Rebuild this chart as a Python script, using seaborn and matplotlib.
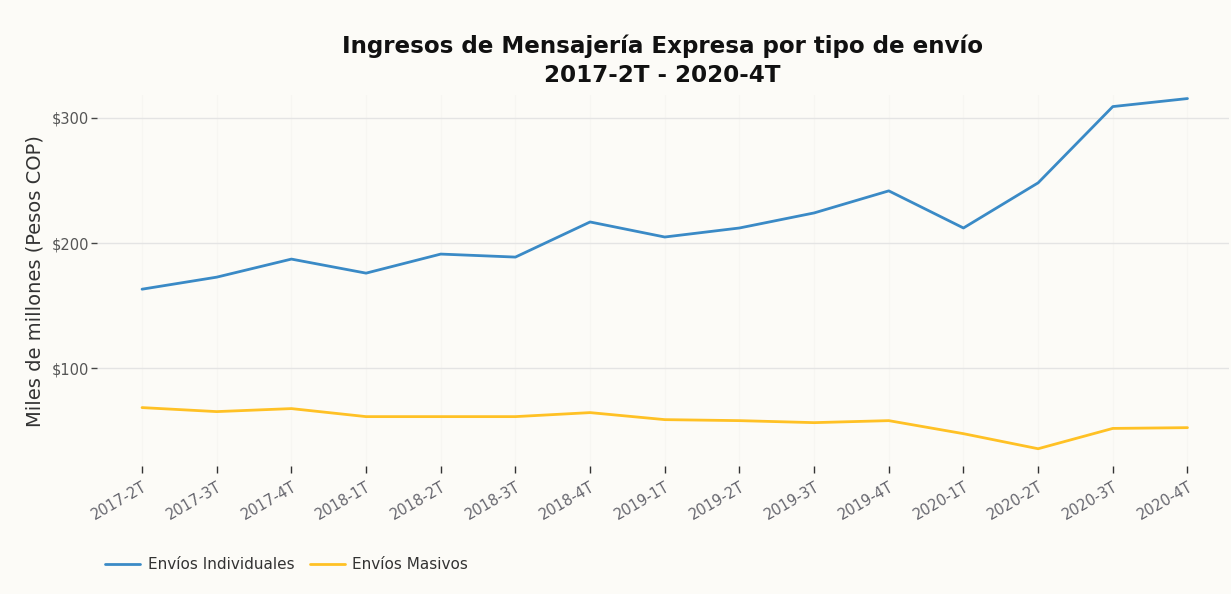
import numpy as np
import pandas as pd
import matplotlib
matplotlib.use("Agg")
import matplotlib.pyplot as plt
import seaborn as sns

# Datos (miles de millones de pesos COP)
periodos = ['2017-2T', '2017-3T', '2017-4T', '2018-1T', '2018-2T', '2018-3T',
            '2018-4T', '2019-1T', '2019-2T', '2019-3T', '2019-4T', '2020-1T',
            '2020-2T', '2020-3T', '2020-4T']
individuales = [163.2, 172.8, 187.2, 176.0, 191.2, 188.8, 216.8, 204.8,
                212.0, 224.0, 241.6, 212.0, 248.0, 308.8, 315.2]
masivos = [68.8, 65.6, 68.0, 61.6, 61.6, 61.6, 64.8, 59.2,
           58.4, 56.8, 58.4, 48.0, 36.0, 52.2, 52.8]
series = ['Envíos Individuales', 'Envíos Masivos']
colores = ['#3A8AC6', '#FFC125']
yticks = [100, 200, 300]

df = pd.DataFrame({
    'periodo': periodos * 2,
    'x': list(range(len(periodos))) * 2,
    'valor': individuales + masivos,
    'tipo': [series[0]] * len(periodos) + [series[1]] * len(periodos),
})

sns.set_style('white')
plt.rcParams['font.family'] = ['DejaVu Sans']
bg = '#FCFBF7'

fig = plt.figure(figsize=(12.31, 5.94), dpi=100, facecolor=bg)
ax = fig.add_axes([0.079, 0.215, 0.919, 0.625])
ax.set_facecolor(bg)

sns.lineplot(data=df, x='x', y='valor', hue='tipo', palette=colores,
             linewidth=2, ax=ax, legend=False)

ax.set_xlim(-0.6, 14.55)
ax.set_ylim(22, 318)
ax.set_yticks(yticks)
ax.set_yticklabels([f'${v}' for v in yticks], color='#555555', fontsize=10.5)
ax.set_xticks(range(len(periodos)))
ax.set_xticklabels(periodos, rotation=30, ha='right', rotation_mode='anchor',
                   color='#66666e', fontsize=10.5)
ax.tick_params(axis='x', length=5, width=1, color='#333333', pad=4, direction='out', bottom=True)
ax.tick_params(axis='y', length=4, width=1, color='#444444', pad=2, left=True)
ax.grid(axis='y', color='#E4E4E4', linewidth=1)
ax.grid(axis='x', color='#F7F6F2', linewidth=1)
ax.set_axisbelow(True)
for s in ax.spines.values():
    s.set_visible(False)

ax.set_xlabel('')
ax.set_ylabel('Miles de millones (Pesos COP)', fontsize=14, color='#333333', labelpad=5)

fig.text(0.538, 0.898, 'Ingresos de Mensajería Expresa por tipo de envío\n2017-2T - 2020-4T',
         ha='center', va='center', fontsize=16.6, fontweight='bold', color='#111111',
         linespacing=1.3)

handles = [plt.Line2D([], [], color=c, linewidth=2) for c in colores]
fig.legend(handles, series, loc='center left', bbox_to_anchor=(0.074, 0.049),
           ncol=2, frameon=False, fontsize=11, handlelength=2.3,
           handletextpad=0.5, columnspacing=1.0, labelcolor='#333333')

fig.savefig('out.png', dpi=100, facecolor=bg)
